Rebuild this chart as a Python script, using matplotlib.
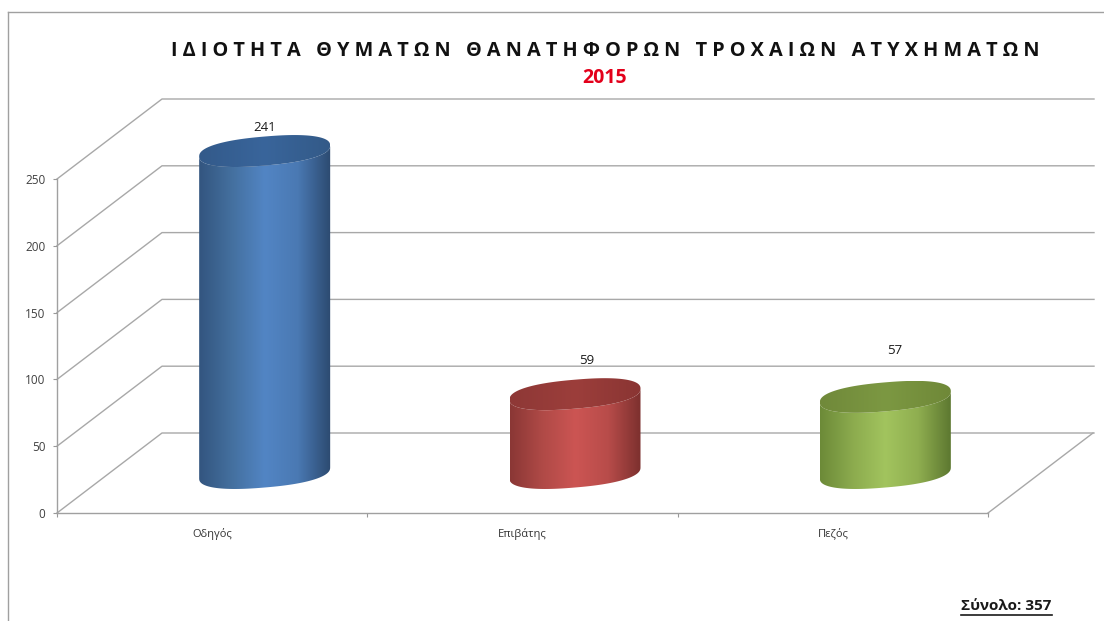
import numpy as np
import matplotlib
matplotlib.use('Agg')
import matplotlib.pyplot as plt
from matplotlib.colors import LinearSegmentedColormap
from matplotlib.lines import Line2D
from matplotlib.patches import Polygon

categories = ['Οδηγός', 'Επιβάτης', 'Πεζός']
values = [241, 59, 57]
y_ticks = [0, 50, 100, 150, 200, 250]
title = 'Ι Δ Ι Ο Τ Η Τ Α   Θ Υ Μ Α Τ Ω Ν   Θ Α Ν Α Τ Η Φ Ο Ρ Ω Ν   Τ Ρ Ο Χ Α Ι Ω Ν   Α Τ Υ Χ Η Μ Α Τ Ω Ν'
year = '2015'
total_text = 'Σύνολο: 357'

body_colors = [['#33557f', '#44709f', '#5285c4', '#4a79b3', '#2c4a70'],
               ['#8a3735', '#b04a47', '#cc5553', '#b84c4a', '#7c302e'],
               ['#6c8a38', '#8cab4e', '#a2c45e', '#8fae50', '#5d7830']]
top_colors = [['#335a8a', '#39659b', '#335a88'],
              ['#8e3836', '#9c3e3b', '#8a3533'],
              ['#70893a', '#7c9842', '#6f8838']]
# label offset from the centre of the top face, in pixels
label_offsets = [(0, 24), (12, 34), (9, 46)]

plt.rcParams['font.family'] = ['Open Sans', 'DejaVu Sans']

W, H = 1104, 621
fig = plt.figure(figsize=(W / 100, H / 100), dpi=100, facecolor='white')

left, right, bottom, top = 57, 988, 513, 179
ax = fig.add_axes([left / W, 1 - bottom / H, (right - left) / W, (bottom - top) / H])
ax.patch.set_visible(False)
ax.set_xlim(0, 3)
ax.set_ylim(0, 250)

px_x = 3 / (right - left)
px_y = 250 / (bottom - top)
depth_x = 105 * px_x
depth_y = 80 * px_y

grid_color = '#a8a8a8'
for v in y_ticks:
    ax.plot([0, depth_x, 3 + depth_x + 1 * px_x], [v, v + depth_y, v + depth_y],
            color=grid_color, lw=1.0, clip_on=False, zorder=1)
ax.plot([3, 3 + depth_x], [0, depth_y], color=grid_color, lw=1.0, clip_on=False, zorder=1)

a = 65.5 * px_x
b = 14.5 * px_y
c = 5.5 * px_y


def ellipse(cx, cy, t):
    # slightly fuller than a true ellipse, like the Excel cylinder
    ux = np.sign(np.cos(t)) * np.abs(np.cos(t)) ** 0.85
    uy = np.sign(np.sin(t)) * np.abs(np.sin(t)) ** 0.85
    return cx + a * ux, cy + b * uy + c * ux


def gradient_fill(xs, ys, colors, z):
    poly = Polygon(np.column_stack([xs, ys]), closed=True, facecolor='none',
                   edgecolor='none', clip_on=False, zorder=z)
    ax.add_patch(poly)
    cmap = LinearSegmentedColormap.from_list('g', colors)
    im = ax.imshow(np.linspace(0, 1, 256).reshape(1, -1), cmap=cmap, aspect='auto',
                   extent=(min(xs), max(xs), min(ys), max(ys)),
                   interpolation='bilinear', zorder=z)
    im.set_clip_box(fig.bbox)
    im.set_clip_path(poly)


for i, val in enumerate(values):
    cx = i + 0.5 + depth_x / 2
    cy0 = depth_y / 2
    cy1 = cy0 + val
    t_low = np.linspace(np.pi, 2 * np.pi, 80)
    t_all = np.linspace(0, 2 * np.pi, 160)
    bx, by = ellipse(cx, cy0, t_low)
    tx, ty = ellipse(cx, cy1, t_low[::-1])
    gradient_fill(np.r_[bx, tx], np.r_[by, ty], body_colors[i], 3)
    fx, fy = ellipse(cx, cy1, t_all)
    gradient_fill(fx, fy, top_colors[i], 4)
    ax.annotate(str(val), (cx, cy1), xytext=(label_offsets[i][0] * 0.72, label_offsets[i][1] * 0.72),
                textcoords='offset points', ha='center', va='center',
                fontsize=9.5, color='#1a1a1a', annotation_clip=False, zorder=5)

ax.set_xlim(0, 3)
ax.set_ylim(0, 250)

for side in ['top', 'right']:
    ax.spines[side].set_visible(False)
for side in ['left', 'bottom']:
    ax.spines[side].set_color('#a0a0a0')
    ax.spines[side].set_linewidth(1.0)

ax.set_yticks(y_ticks)
ax.set_xticks([0, 1, 2, 3])
ax.set_xticklabels([])
ax.set_xticks([0.5, 1.5, 2.5], minor=True)
ax.set_xticklabels(categories, minor=True)
ax.tick_params(axis='y', length=3, width=0.8, color='#999999', labelcolor='#404040',
               labelsize=8.5, pad=5.5)
ax.tick_params(axis='x', which='major', length=3, width=0.8, color='#999999')
ax.tick_params(axis='x', which='minor', length=0, labelcolor='#333333', labelsize=8, pad=10.5)

# frame of the pasted picture
frame = '#a0a0a0'
fig.add_artist(Line2D([8 / W, 8 / W], [0, 1 - 11.5 / H], color=frame, lw=1.0))
fig.add_artist(Line2D([8 / W, 1], [1 - 11.5 / H, 1 - 11.5 / H], color=frame, lw=1.0))

fig.text(605.5 / W, 1 - 51 / H, title, ha='center', va='center', fontsize=14.3, fontweight='bold',
         color='#111111')
fig.text(604.5 / W, 1 - 78 / H, year, ha='center', va='center', fontsize=14, fontweight='bold',
         color='#e3001b')
total = fig.text(1006.5 / W, 1 - 606 / H, total_text, ha='center', va='center', fontsize=11,
                 fontweight='bold', color='#1a1a1a')

box = total.get_window_extent(fig.canvas.get_renderer())
fig.add_artist(Line2D([box.x0 / W, box.x1 / W], [1 - 615 / H, 1 - 615 / H], color='#1a1a1a', lw=1.2))

fig.savefig('out.png', dpi=100)
